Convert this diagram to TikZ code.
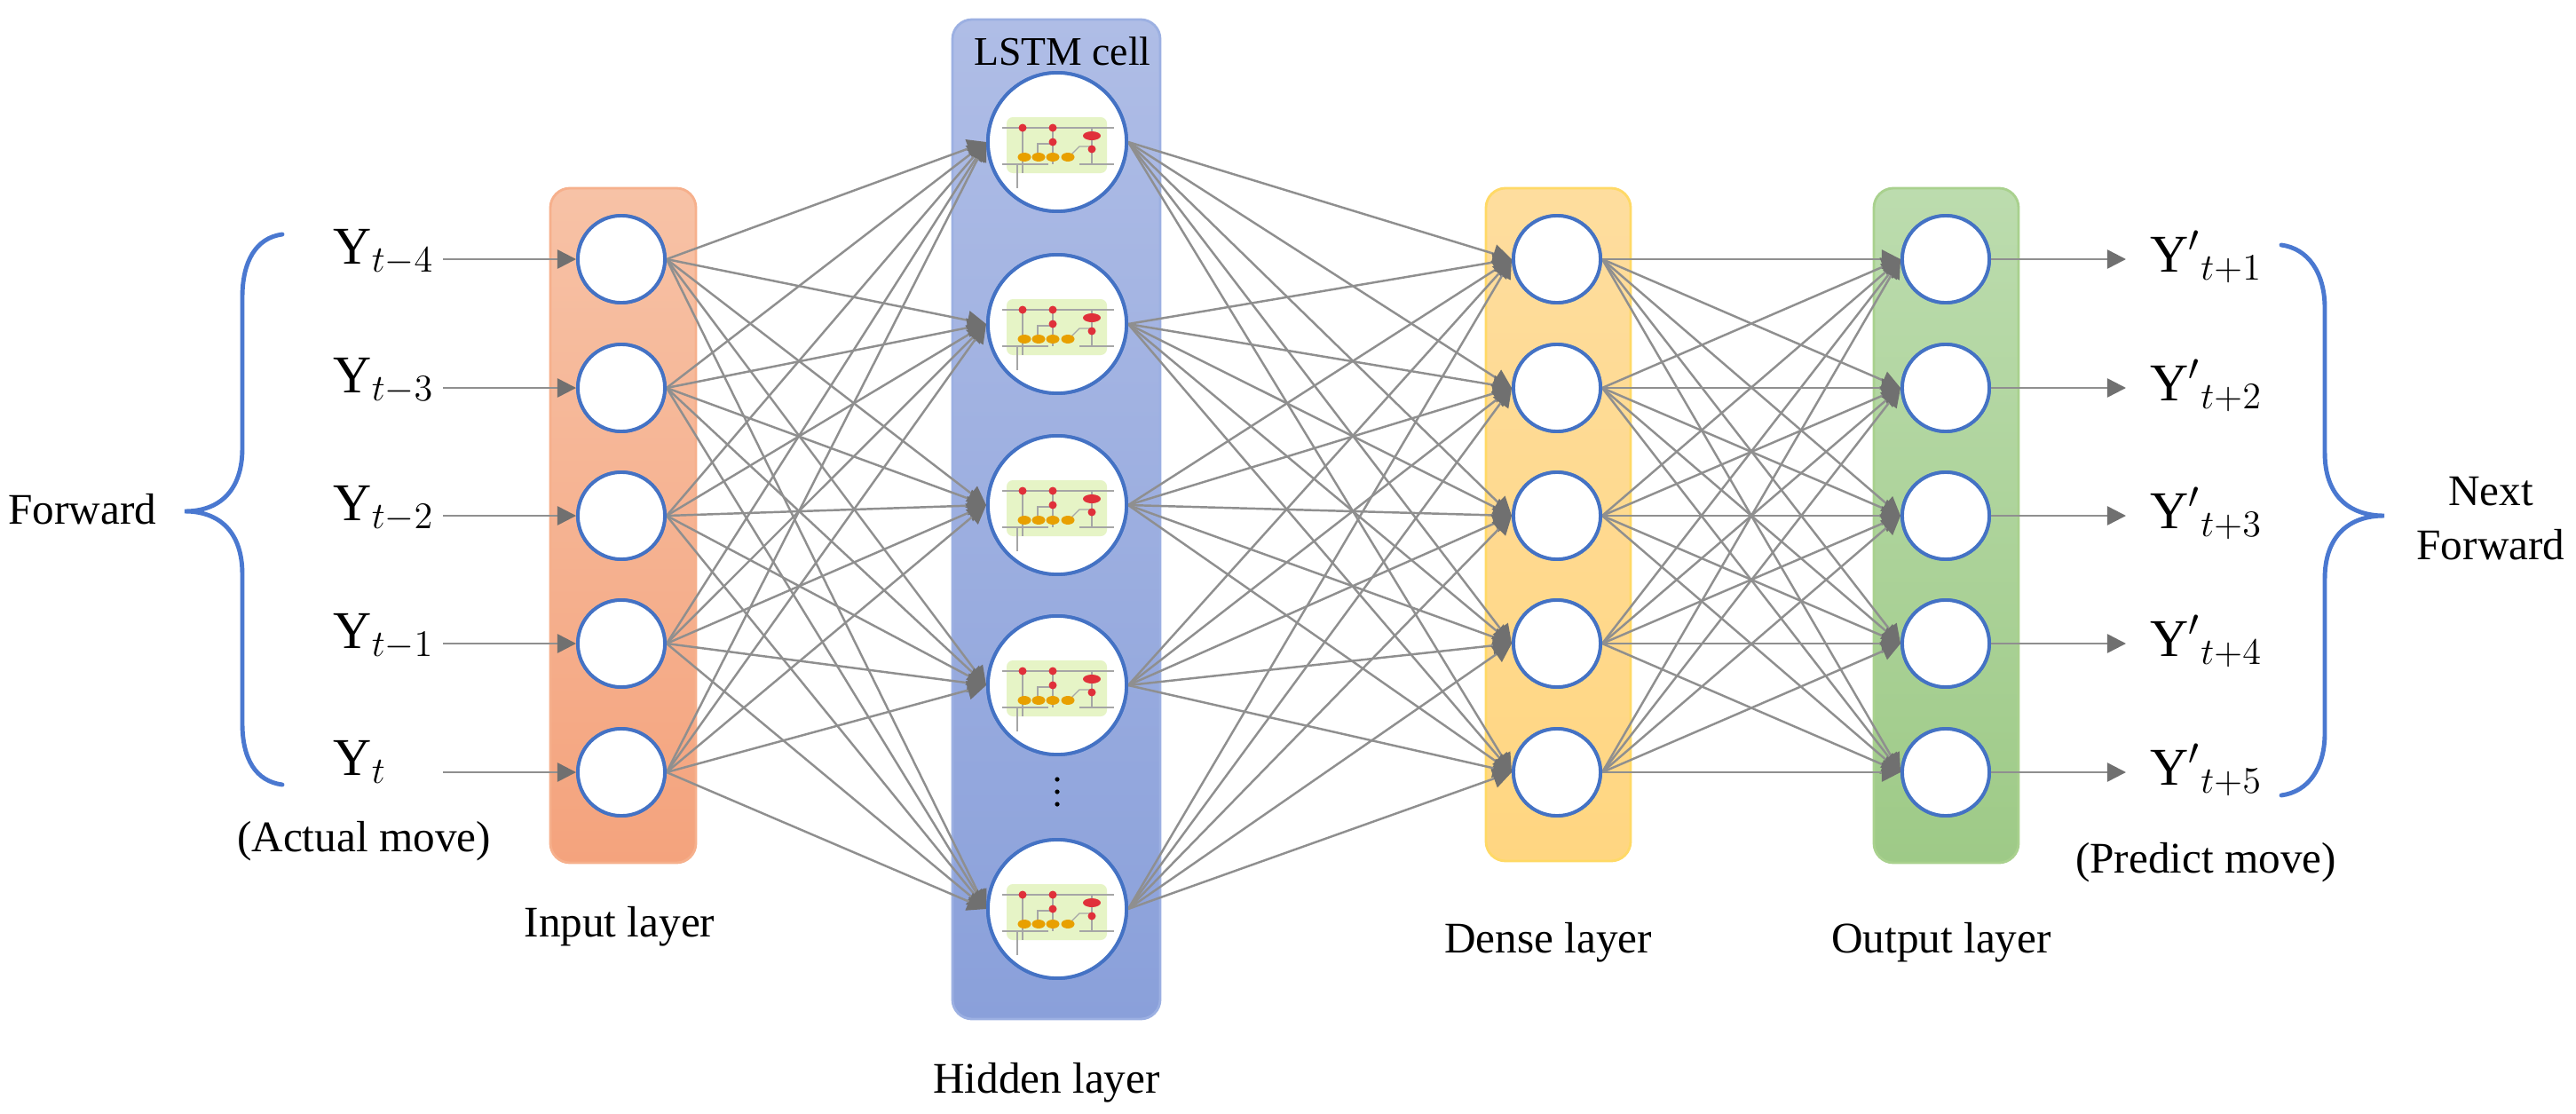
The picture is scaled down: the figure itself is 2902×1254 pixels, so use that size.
\documentclass[tikz,border=0pt]{standalone}
\usepackage{fontspec}
\setmainfont{Liberation Serif}
\usetikzlibrary{arrows.meta}
\definecolor{nodeblue}{HTML}{4472C4}
\definecolor{linkgray}{HTML}{8F8F8F}
\definecolor{tipgray}{HTML}{707070}
\definecolor{braceblue}{HTML}{4A78D0}
\definecolor{inTop}{HTML}{F7C2A6}
\definecolor{inBot}{HTML}{F4A37D}
\definecolor{inLine}{HTML}{F6B08C}
\definecolor{hidTop}{HTML}{AFBDE6}
\definecolor{hidBot}{HTML}{8AA0DA}
\definecolor{hidLine}{HTML}{9CB0E2}
\definecolor{denTop}{HTML}{FEDD9E}
\definecolor{denBot}{HTML}{FFD681}
\definecolor{denLine}{HTML}{FFD966}
\definecolor{outTop}{HTML}{BCDCAE}
\definecolor{outBot}{HTML}{9ECA87}
\definecolor{outLine}{HTML}{A9D18E}
\definecolor{cellGreen}{HTML}{E6F4C6}
\definecolor{cellRed}{HTML}{E0303A}
\definecolor{cellOrange}{HTML}{E8A000}
\begin{document}
\begin{tikzpicture}[x=0.01cm,y=-0.01cm,
  neuron/.style={circle,draw=nodeblue,line width=1.1pt,fill=white,minimum size=0.98cm,inner sep=0pt},
  bigneuron/.style={neuron,minimum size=1.56cm},
  conn/.style={draw=linkgray,line width=0.7pt,-{Triangle[length=6pt,width=6pt,color=tipgray]}},
  lbl/.style={font=\fontsize{14}{17}\selectfont,inner sep=0pt},
  ylbl/.style={font=\fontsize{17}{20}\selectfont,anchor=base west,inner sep=0pt},
  brace/.style={draw=braceblue,line width=1.4pt,line cap=round},
  layerbox/.style={rounded corners=0.22cm,line width=0.8pt},
  pics/lstmcell/.style={code={
    \fill[cellGreen,rounded corners=2pt] (-57,-28) rectangle (56,35);
    \draw[gray!70,line width=0.35pt] (-62,-16) -- (64,-16);
    \draw[gray!70,line width=0.35pt] (-62,25) -- (-10,25) (25,25) -- (64,25);
    \draw[gray!70,line width=0.35pt] (-39,-16) -- (-39,35) (-45,25) -- (-45,52);
    \draw[gray!70,line width=0.35pt] (-5,-16) -- (-5,25) (-22,17) -- (-22,2) -- (-5,2);
    \draw[gray!70,line width=0.35pt] (39,-16) -- (39,25) -- (64,25);
    \draw[gray!70,line width=0.35pt] (13,17) -- (25,5) -- (39,5);
    \fill[cellRed] (-39,-16) circle (4.5) (-5,-16) circle (4.5) (-5,0) circle (4.5) (39,8) circle (4.5);
    \fill[cellRed] (39,-7) ellipse (10 and 5);
    \fill[cellOrange] (-37,17) ellipse (7.5 and 5) (-21,17) ellipse (7.5 and 5) (-5,17) ellipse (7.5 and 5) (12,17) ellipse (7.5 and 5);
  }}]
\useasboundingbox (0,0) rectangle (2902,1254);

% layer boxes
\path[layerbox,top color=inTop,bottom color=inBot,draw=inLine] (620,212) rectangle (784,972);
\path[layerbox,top color=hidTop,bottom color=hidBot,draw=hidLine] (1073,22) rectangle (1307,1148);
\path[layerbox,top color=denTop,bottom color=denBot,draw=denLine] (1674,212) rectangle (1837,970);
\path[layerbox,top color=outTop,bottom color=outBot,draw=outLine] (2111,212) rectangle (2274,972);

% neurons
\foreach \k/\yy in {1/292,2/437,3/581,4/725,5/870}{
  \node[neuron] (i\k) at (700,\yy) {};
  \node[neuron] (d\k) at (1754,\yy) {};
  \node[neuron] (o\k) at (2192,\yy) {};
  \coordinate (s\k) at (499,\yy);
  \coordinate (e\k) at (2395,\yy);
}
\foreach \k/\yy in {1/160,2/365,3/569,4/772,5/1024}{
  \node[bigneuron] (h\k) at (1191,\yy) {};
}

% connectors
\foreach \a in {1,...,5}{
  \foreach \b in {1,...,5}{
    \draw[conn] (i\a.east) -- (h\b.west);
    \draw[conn] (h\a.east) -- (d\b.west);
    \draw[conn] (d\a.east) -- (o\b.west);
  }
  \draw[conn] (s\a) -- (i\a.west);
  \draw[conn] (o\a.east) -- (e\a);
}

% redraw neurons on top
\foreach \k in {1,...,5}{
  \node[neuron] at (i\k) {};
  \node[neuron] at (d\k) {};
  \node[neuron] at (o\k) {};
  \node[bigneuron] at (h\k) {};
  \pic at (h\k) {lstmcell};
}

% dots
\fill (1191,878) circle (2.6) (1191,892) circle (2.6) (1191,906) circle (2.6);

% input labels
\node[ylbl] (y1) at (375,297) {Y$_{t-4}$};
\node[ylbl] (y2) at (375,442) {Y$_{t-3}$};
\node[ylbl] (y3) at (375,586) {Y$_{t-2}$};
\node[ylbl] (y4) at (375,730) {Y$_{t-1}$};
\node[ylbl] (y5) at (375,873) {Y$_{t}$};

% output labels
\node[ylbl] (p1) at (2422,306) {Y$'{}_{t+1}$};
\node[ylbl] (p2) at (2422,451) {Y$'{}_{t+2}$};
\node[ylbl] (p3) at (2422,595) {Y$'{}_{t+3}$};
\node[ylbl] (p4) at (2422,739) {Y$'{}_{t+4}$};
\node[ylbl] (p5) at (2422,884) {Y$'{}_{t+5}$};

% braces
\draw[brace] (318,264) .. controls (288,268) and (273,295) .. (273,335) -- (273,505)
  .. controls (273,552) and (248,576) .. (208,576)
  .. controls (248,576) and (273,600) .. (273,647) -- (273,815)
  .. controls (273,855) and (288,880) .. (318,884);
\draw[brace] (2570,276) .. controls (2600,280) and (2619,307) .. (2619,347) -- (2619,510)
  .. controls (2619,557) and (2645,581) .. (2686,581)
  .. controls (2645,581) and (2619,605) .. (2619,652) -- (2619,826)
  .. controls (2619,866) and (2600,892) .. (2570,896);

% texts
\node[lbl] (fwd) at (93,574) {Forward};
\node[lbl] (act) at (410,948) {(Actual move)};
\node[lbl] (inl) at (698,1044) {Input layer};
\node[lbl,font=\fontsize{13}{15}\selectfont] (cell) at (1197,58) {LSTM cell};
\node[lbl] (hidl) at (1179,1220) {Hidden layer};
\node[lbl] (denl) at (1744,1062) {Dense layer};
\node[lbl] (outl) at (2187,1062) {Output layer};
\node[lbl] (pred) at (2485,972) {(Predict move)};
\node[lbl,align=center,font=\fontsize{14}{17.4}\selectfont] (nfwd) at (2806,584) {Next\\Forward};
\end{tikzpicture}
\end{document}
